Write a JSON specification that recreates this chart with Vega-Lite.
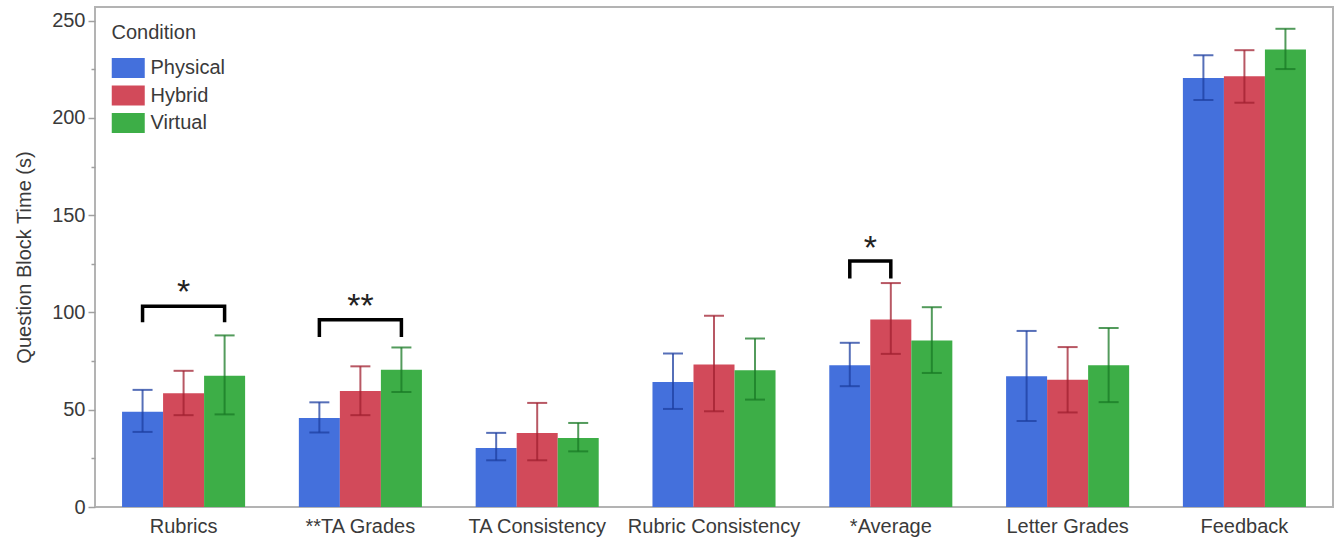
{
  "$schema": "https://vega.github.io/schema/vega-lite/v6.json",
  "width": 1238,
  "height": 500,
  "autosize": {"type": "none"},
  "padding": {"left": 95, "top": 7, "right": 4, "bottom": 32},
  "background": "white",
  "config": {
    "view": {"stroke": "#b3b3b3", "strokeWidth": 2},
    "font": "Liberation Sans",
    "axis": {"labelFont": "Liberation Sans", "titleFont": "Liberation Sans", "labelColor": "#3a3a3a", "titleColor": "#3a3a3a", "titleFontWeight": "normal", "grid": false, "domain": false}
  },
  "datasets": {
    "bars": [
      {"category": "Rubrics", "condition": "Physical", "mean": 49.0, "lo": 38.6, "hi": 60.2},
      {"category": "Rubrics", "condition": "Hybrid", "mean": 58.5, "lo": 47.2, "hi": 70.0},
      {"category": "Rubrics", "condition": "Virtual", "mean": 67.5, "lo": 47.6, "hi": 88.2},
      {"category": "**TA Grades", "condition": "Physical", "mean": 45.8, "lo": 38.3, "hi": 53.8},
      {"category": "**TA Grades", "condition": "Hybrid", "mean": 59.6, "lo": 47.2, "hi": 72.3},
      {"category": "**TA Grades", "condition": "Virtual", "mean": 70.5, "lo": 59.1, "hi": 82.0},
      {"category": "TA Consistency", "condition": "Physical", "mean": 30.3, "lo": 24.0, "hi": 38.1},
      {"category": "TA Consistency", "condition": "Hybrid", "mean": 38.1, "lo": 24.0, "hi": 53.5},
      {"category": "TA Consistency", "condition": "Virtual", "mean": 35.5, "lo": 28.6, "hi": 43.2},
      {"category": "Rubric Consistency", "condition": "Physical", "mean": 64.3, "lo": 50.4, "hi": 78.9},
      {"category": "Rubric Consistency", "condition": "Hybrid", "mean": 73.2, "lo": 49.2, "hi": 98.3},
      {"category": "Rubric Consistency", "condition": "Virtual", "mean": 70.3, "lo": 55.2, "hi": 86.6},
      {"category": "*Average", "condition": "Physical", "mean": 72.9, "lo": 62.1, "hi": 84.4},
      {"category": "*Average", "condition": "Hybrid", "mean": 96.4, "lo": 78.7, "hi": 115.1},
      {"category": "*Average", "condition": "Virtual", "mean": 85.6, "lo": 68.9, "hi": 102.7},
      {"category": "Letter Grades", "condition": "Physical", "mean": 67.2, "lo": 44.2, "hi": 90.5},
      {"category": "Letter Grades", "condition": "Hybrid", "mean": 65.4, "lo": 48.6, "hi": 82.2},
      {"category": "Letter Grades", "condition": "Virtual", "mean": 72.9, "lo": 53.9, "hi": 92.0},
      {"category": "Feedback", "condition": "Physical", "mean": 220.5, "lo": 209.2, "hi": 232.2},
      {"category": "Feedback", "condition": "Hybrid", "mean": 221.4, "lo": 207.8, "hi": 234.8},
      {"category": "Feedback", "condition": "Virtual", "mean": 235.2, "lo": 225.1, "hi": 245.8}
    ],
    "brackets": [
      {"bid": "r", "category": "Rubrics", "condition": "Physical", "value": 94.9, "ord": 1},
      {"bid": "r", "category": "Rubrics", "condition": "Physical", "value": 103.2, "ord": 2},
      {"bid": "r", "category": "Rubrics", "condition": "Virtual", "value": 103.2, "ord": 3},
      {"bid": "r", "category": "Rubrics", "condition": "Virtual", "value": 94.9, "ord": 4},
      {"bid": "t", "category": "**TA Grades", "condition": "Physical", "value": 87.4, "ord": 1},
      {"bid": "t", "category": "**TA Grades", "condition": "Physical", "value": 96.2, "ord": 2},
      {"bid": "t", "category": "**TA Grades", "condition": "Virtual", "value": 96.2, "ord": 3},
      {"bid": "t", "category": "**TA Grades", "condition": "Virtual", "value": 87.4, "ord": 4},
      {"bid": "a", "category": "*Average", "condition": "Physical", "value": 117.5, "ord": 1},
      {"bid": "a", "category": "*Average", "condition": "Physical", "value": 126.5, "ord": 2},
      {"bid": "a", "category": "*Average", "condition": "Hybrid", "value": 126.5, "ord": 3},
      {"bid": "a", "category": "*Average", "condition": "Hybrid", "value": 117.5, "ord": 4}
    ],
    "stars": [
      {"category": "Rubrics", "condition": "Hybrid", "value": 113.2, "label": "*", "shift": "no"},
      {"category": "**TA Grades", "condition": "Hybrid", "value": 105.9, "label": "**", "shift": "no"},
      {"category": "*Average", "condition": "Physical", "value": 135.5, "label": "*", "shift": "yes"}
    ]
  },
  "encoding": {
    "x": {
      "field": "category",
      "type": "nominal",
      "title": null,
      "scale": {
        "domain": ["Rubrics", "**TA Grades", "TA Consistency", "Rubric Consistency", "*Average", "Letter Grades", "Feedback"],
        "paddingInner": 0.304,
        "paddingOuter": 0.153
      },
      "axis": {"labelAngle": 0, "labelFontSize": 20, "ticks": false, "tickSize": 0, "labelPadding": 9}
    }
  },
  "layer": [
    {
      "data": {"name": "bars"},
      "mark": {"type": "bar"},
      "encoding": {
        "xOffset": {"field": "condition", "type": "nominal", "scale": {"domain": ["Physical", "Hybrid", "Virtual"]}},
        "y": {
          "field": "mean",
          "type": "quantitative",
          "title": "Question Block Time (s)",
          "scale": {"domain": [0, 257], "nice": false, "zero": true},
          "axis": {
            "values": [0, 25, 50, 75, 100, 125, 150, 175, 200, 225, 250],
            "labelExpr": "datum.value % 50 === 0 ? datum.label : ''",
            "labelFontSize": 20,
            "titleFontSize": 20,
            "labelPadding": 3,
            "titlePadding": 17,
            "tickColor": "#a0a0a0",
            "tickWidth": 1.5,
            "tickSize": {"condition": {"test": "datum.value % 50 === 0", "value": 7}, "value": 4}
          }
        },
        "color": {
          "field": "condition",
          "type": "nominal",
          "scale": {"domain": ["Physical", "Hybrid", "Virtual"], "range": ["#4470DC", "#D24A5A", "#3DAE47"]},
          "legend": {
            "title": "Condition",
            "orient": "none",
            "legendX": 16.5,
            "legendY": 16,
            "titleFontSize": 20,
            "titleFontWeight": "normal",
            "titleColor": "#3a3a3a",
            "titleFont": "Liberation Sans",
            "titlePadding": 11,
            "labelFontSize": 20,
            "labelColor": "#3a3a3a",
            "labelFont": "Liberation Sans",
            "symbolType": "M-1,-0.72H1.4V0.72H-1Z",
            "symbolSize": 756,
            "symbolStrokeWidth": 0,
            "symbolOpacity": 1,
            "labelOffset": 11,
            "rowPadding": 3.5
          }
        }
      }
    },
    {
      "data": {"name": "bars"},
      "mark": {"type": "rule", "strokeWidth": 2, "opacity": 0.75},
      "encoding": {
        "xOffset": {"field": "condition", "type": "nominal", "scale": {"domain": ["Physical", "Hybrid", "Virtual"]}},
        "y": {"field": "lo", "type": "quantitative"},
        "y2": {"field": "hi"},
        "stroke": {"field": "condition", "type": "nominal", "scale": {"domain": ["Physical", "Hybrid", "Virtual"], "range": ["#1e3fa0", "#a02030", "#1a7a25"]}, "legend": null}
      }
    },
    {
      "data": {"name": "bars"},
      "mark": {"type": "tick", "thickness": 2, "size": 20, "opacity": 0.75},
      "encoding": {
        "xOffset": {"field": "condition", "type": "nominal", "scale": {"domain": ["Physical", "Hybrid", "Virtual"]}},
        "y": {"field": "lo", "type": "quantitative"},
        "fill": {"field": "condition", "type": "nominal", "scale": {"domain": ["Physical", "Hybrid", "Virtual"], "range": ["#1e3fa0", "#a02030", "#1a7a25"]}, "legend": null}
      }
    },
    {
      "data": {"name": "bars"},
      "mark": {"type": "tick", "thickness": 2, "size": 20, "opacity": 0.75},
      "encoding": {
        "xOffset": {"field": "condition", "type": "nominal", "scale": {"domain": ["Physical", "Hybrid", "Virtual"]}},
        "y": {"field": "hi", "type": "quantitative"},
        "fill": {"field": "condition", "type": "nominal", "scale": {"domain": ["Physical", "Hybrid", "Virtual"], "range": ["#1e3fa0", "#a02030", "#1a7a25"]}, "legend": null}
      }
    },
    {
      "data": {"name": "brackets"},
      "mark": {"type": "line", "color": "black", "strokeWidth": 3.5, "strokeJoin": "miter", "strokeCap": "butt"},
      "encoding": {
        "xOffset": {"field": "condition", "type": "nominal", "scale": {"domain": ["Physical", "Hybrid", "Virtual"]}},
        "y": {"field": "value", "type": "quantitative"},
        "detail": {"field": "bid"},
        "order": {"field": "ord", "type": "quantitative"}
      }
    },
    {
      "data": {"name": "stars"},
      "transform": [{"filter": "datum.shift === 'no'"}],
      "mark": {"type": "text", "font": "Liberation Sans", "fontSize": 34, "color": "#222", "baseline": "alphabetic", "dy": 16},
      "encoding": {
        "xOffset": {"field": "condition", "type": "nominal", "scale": {"domain": ["Physical", "Hybrid", "Virtual"]}},
        "y": {"field": "value", "type": "quantitative"},
        "text": {"field": "label"}
      }
    },
    {
      "data": {"name": "stars"},
      "transform": [{"filter": "datum.shift === 'yes'"}],
      "mark": {"type": "text", "font": "Liberation Sans", "fontSize": 34, "color": "#222", "baseline": "alphabetic", "dy": 16, "dx": 20.5},
      "encoding": {
        "xOffset": {"field": "condition", "type": "nominal", "scale": {"domain": ["Physical", "Hybrid", "Virtual"]}},
        "y": {"field": "value", "type": "quantitative"},
        "text": {"field": "label"}
      }
    }
  ]
}
